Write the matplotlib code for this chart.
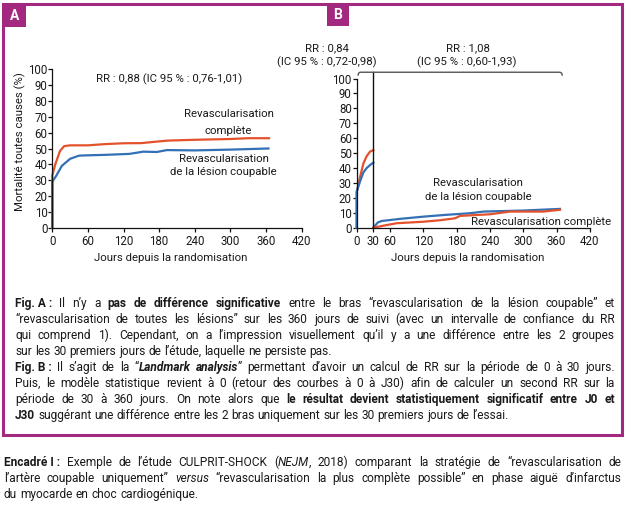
import matplotlib
matplotlib.use("Agg")
import matplotlib.pyplot as plt
from matplotlib.patches import Rectangle

# ---------------- data ----------------
A_days_complete = [0, 0, 5, 13, 20, 30, 60, 90, 120, 150, 180, 195, 240, 300, 330, 365]
A_complete = [0, 33, 40, 48.5, 51.5, 52, 52, 52.8, 53.3, 53.4, 54.5, 55, 55.5, 56, 56.5, 56.5]
A_days_culprit = [0, 0, 7, 16, 30, 45, 60, 90, 130, 153, 176, 193, 240, 300, 364]
A_culprit = [0, 29, 33, 39, 43.5, 45.5, 45.7, 46, 46.6, 48, 47.8, 49, 48.8, 49.3, 50]

B_days_early = [0, 0, 6, 12, 18, 24, 30]
B_complete_early = [0, 24, 34, 43, 48, 51, 52]
B_culprit_early = [0, 24, 31, 37, 40, 42, 43.6]
B_days_late_culprit = [30, 38, 45, 80, 120, 160, 204, 228, 300, 366]
B_culprit_late = [0, 3.5, 4.5, 6, 7.4, 8.6, 9.7, 10.8, 11.5, 12.6]
B_days_late_complete = [30, 50, 72, 120, 150, 177, 186, 240, 276, 336, 366]
B_complete_late = [0, 1.5, 3, 4, 5, 6.3, 7.9, 9, 10.8, 10.8, 12]

y_ticks = list(range(0, 101, 10))
A_xticks = [0, 60, 120, 180, 240, 300, 360, 420]
B_xticks = [0, 30, 60, 120, 180, 240, 300, 360, 420]
landmark_day = 30

RED = "#E4522C"
BLUE = "#3370B6"
MAG = "#A3287F"
TXT = "#1a1a1a"

W, H = 629, 507
plt.rcParams["font.family"] = ["Roboto", "DejaVu Sans"]
fig = plt.figure(figsize=(W / 100, H / 100), dpi=100)


def fx(x):
    return x / W


def fy(y):
    return 1 - y / H


def add_axes_px(x0, y0, x1, y1):
    return fig.add_axes([x0 / W, 1 - y1 / H, (x1 - x0) / W, (y1 - y0) / H])


def style(ax, xticks):
    ax.set_xlim(0, 420)
    ax.set_ylim(0, 100)
    ax.patch.set_alpha(0)
    for s in ("top", "right"):
        ax.spines[s].set_visible(False)
    for s in ("left", "bottom"):
        ax.spines[s].set_linewidth(0.9)
        ax.spines[s].set_color("#111")
    ax.set_yticks(y_ticks)
    ax.set_xticks(xticks)
    ax.tick_params(axis="both", labelsize=8.3, length=3, width=0.9, colors="#111", labelcolor=TXT)
    ax.tick_params(axis="y", pad=0.5)
    ax.tick_params(axis="x", pad=2)


def ftext(x, y, s, **kw):
    kw.setdefault("ha", "center")
    kw.setdefault("va", "center")
    kw.setdefault("fontsize", 8.2)
    kw.setdefault("color", TXT)
    return fig.text(fx(x), fy(y), s, **kw)


# ---------------- panel A ----------------
axA = add_axes_px(52.3, 69.3, 301.7, 227.7)
style(axA, A_xticks)
axA.plot(A_days_complete, A_complete, color=RED, lw=1.6, clip_on=False, solid_joinstyle="round")
axA.plot(A_days_culprit, A_culprit, color=BLUE, lw=1.6, clip_on=False, solid_joinstyle="round")

ftext(169, 79, "RR : 0,88 (IC 95 % : 0,76-1,01)")
ftext(228.6, 114.3, "Revascularisation")
ftext(228.6, 130.5, "complète")
ftext(223.7, 159, "Revascularisation")
ftext(223.7, 172, "de la lésion coupable")
ftext(171, 258, "Jours depuis la randomisation")
ftext(20, 142, "Mortalité toutes causes (%)", rotation=90)

# ---------------- panel B ----------------
axB = add_axes_px(356.7, 78.5, 590, 227.7)
style(axB, B_xticks)
axB.plot(B_days_early, B_complete_early, color=RED, lw=1.6, clip_on=False, solid_joinstyle="round")
axB.plot(B_days_early, B_culprit_early, color=BLUE, lw=1.6, clip_on=False, solid_joinstyle="round")
axB.plot(B_days_late_culprit, B_culprit_late, color=BLUE, lw=1.6, clip_on=False, solid_joinstyle="round")
axB.plot(B_days_late_complete, B_complete_late, color=RED, lw=1.6, clip_on=False, solid_joinstyle="round")
axB.plot([landmark_day, landmark_day], [0, 104.2], color="#111", lw=1.0, clip_on=False)
axB.plot([2.5, 3.5, 6, 366, 369, 370], [102.3, 103.6, 104.2, 104.2, 103.6, 102.3],
         color="#555", lw=1.0, clip_on=False)

ftext(326.7, 48, "RR : 0,84")
ftext(326.7, 62, "(IC 95 % : 0,72-0,98)")
ftext(468, 48, "RR : 1,08")
ftext(467, 62, "(IC 95 % : 0,60-1,93)")
ftext(478, 183.3, "Revascularisation")
ftext(478.5, 197.3, "de la lésion coupable")
ftext(541, 222.3, "Revascularisation complète")
ftext(468, 258, "Jours depuis la randomisation")

# ---------------- frame & panel labels ----------------
fig.patches.append(Rectangle((fx(3.5), fy(434.5)), 618.5 / W, 431 / H, transform=fig.transFigure,
                             fill=False, ec=MAG, lw=2.2))
for (x0, y0, x1, y1, lab) in [(3, 3, 26, 27, "A"), (326.7, 3.5, 348.5, 26, "B")]:
    fig.patches.append(Rectangle((fx(x0), fy(y1)), (x1 - x0) / W, (y1 - y0) / H,
                                 transform=fig.transFigure, fc=MAG, ec="none"))
    ftext((x0 + x1) / 2, (y0 + y1) / 2 + 0.5, lab, color="white", fontweight="bold", fontsize=10)

# ---------------- caption text ----------------
renderer = fig.canvas.get_renderer()
STY = {"n": dict(fontweight="normal", fontstyle="normal"),
       "b": dict(fontweight="bold", fontstyle="normal"),
       "i": dict(fontweight="normal", fontstyle="italic"),
       "bi": dict(fontweight="bold", fontstyle="italic")}
FS = 8.6
NB = "\u00a0"


def width(s, st="n"):
    t = fig.text(0, 0, s, fontsize=FS, **STY[st])
    w = t.get_window_extent(renderer=renderer).width
    t.remove()
    return w


SPACE = width("a a") - width("aa")


def draw_line(runs, xl, xr, yb, justify):
    words = [[]]
    for text, st in runs:
        parts = text.split(" ")
        for i, p in enumerate(parts):
            if i > 0:
                words.append([])
            if p:
                words[-1].append((p, st))
    words = [w for w in words if w]
    widths = []
    for w in words:
        widths.append([width(p, st) for p, st in w])
    total = sum(sum(ws) for ws in widths)
    if justify and len(words) > 1:
        gap = (xr - xl - total) / (len(words) - 1)
    else:
        gap = SPACE
    x = xl
    for w, ws in zip(words, widths):
        for (p, st), pw in zip(w, ws):
            fig.text(fx(x), fy(yb), p, fontsize=FS, color=TXT, ha="left", va="baseline", **STY[st])
            x += pw
        x += gap


cap_lines = [
    ([("Fig." + NB + "A" + NB + ":", "b"), (" Il n’y a ", "n"), ("pas de différence significative", "b"),
      (" entre le bras “revascularisation de la lésion coupable” et", "n")], True),
    ([("“revascularisation de toutes les lésions” sur les 360 jours de suivi (avec un intervalle de confiance du RR", "n")], True),
    ([("qui comprend 1). Cependant, on a l’impression visuellement qu’il y a une différence entre les 2 groupes", "n")], True),
    ([("sur les 30 premiers jours de l’étude, laquelle ne persiste pas.", "n")], False),
    ([("Fig." + NB + "B" + NB + ":", "b"), (" Il s’agit de la “", "n"), ("Landmark analysis", "bi"),
      ("” permettant d’avoir un calcul de RR sur la période de 0 à 30 jours.", "n")], True),
    ([("Puis, le modèle statistique revient à 0 (retour des courbes à 0 à J30) afin de calculer un second RR sur la", "n")], True),
    ([("période de 30 à 360 jours. On note alors que ", "n"),
      ("le résultat devient statistiquement significatif entre J0 et", "b")], True),
    ([("J30", "b"), (" suggérant une différence entre les 2 bras uniquement sur les 30 premiers jours de l’essai.", "n")], False),
]
for k, (runs, just) in enumerate(cap_lines):
    draw_line(runs, 15, 615, 306.7 + 16 * k, just)

enc_lines = [
    ([("Encadré" + NB + "I" + NB + ":", "b"), (" Exemple de l’étude CULPRIT-SHOCK (", "n"), ("NEJM", "i"),
      (", 2018) comparant la stratégie de “revascularisation de", "n")], True),
    ([("l’artère coupable uniquement” ", "n"), ("versus", "i"),
      (" “revascularisation la plus complète possible” en phase aiguë d’infarctus", "n")], True),
    ([("du myocarde en choc cardiogénique.", "n")], False),
]
for k, (runs, just) in enumerate(enc_lines):
    draw_line(runs, 4, 621, 466 + 16 * k, just)

fig.savefig("out.png", dpi=100)
